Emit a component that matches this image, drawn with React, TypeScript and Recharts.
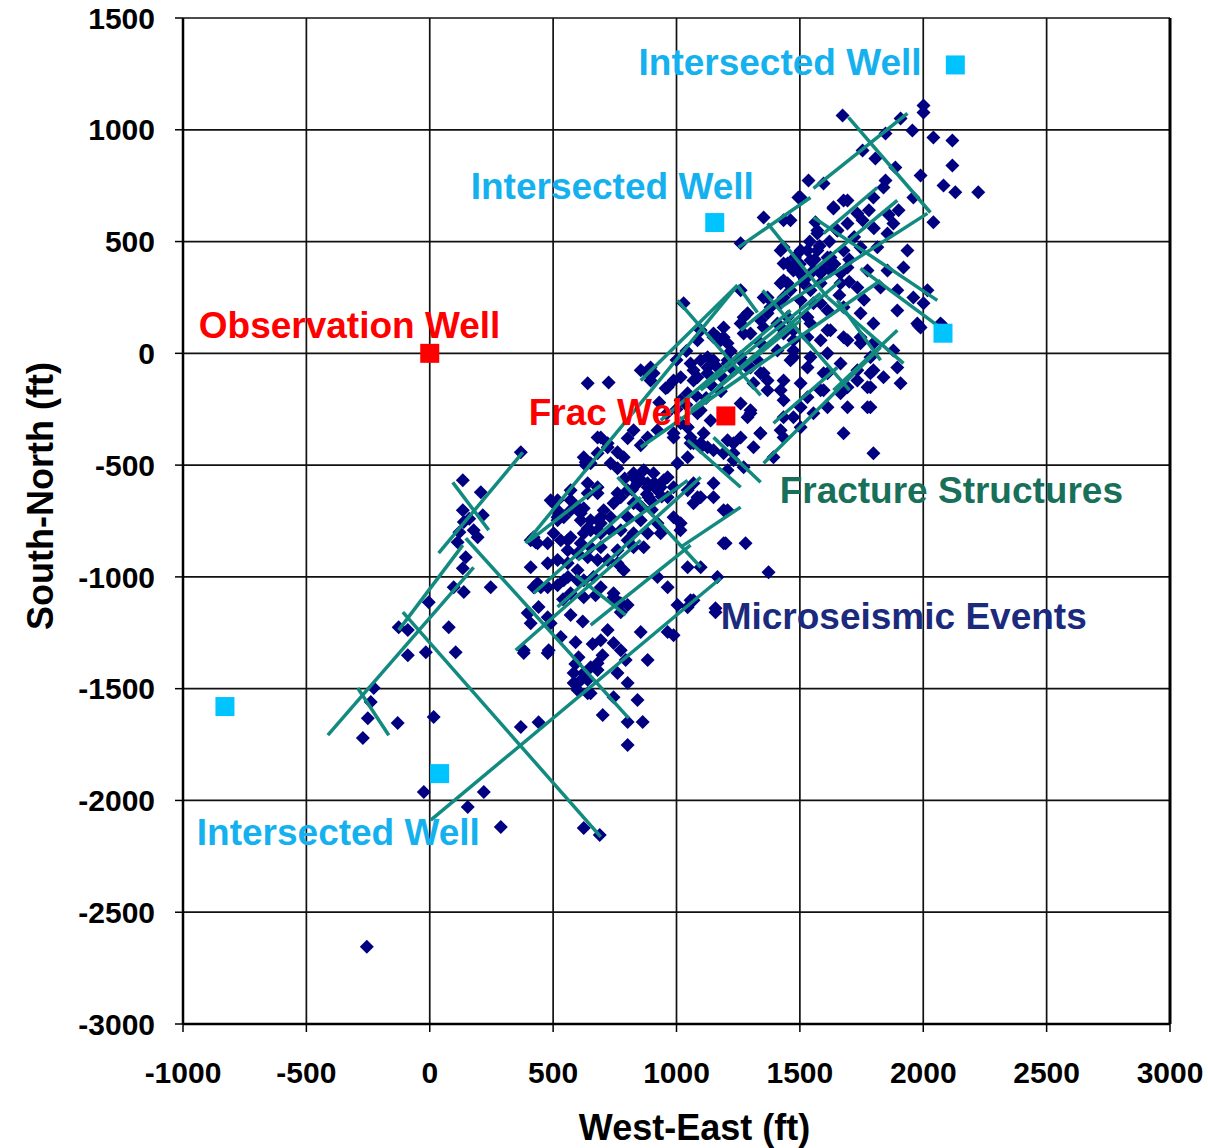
import { ScatterChart, Scatter, XAxis, YAxis, CartesianGrid, ReferenceLine } from "recharts"

const FONT = '"Liberation Sans", Arial, Helvetica, sans-serif'

const xTicks = [-1000, -500, 0, 500, 1000, 1500, 2000, 2500, 3000]
const yTicks = [-3000, -2500, -2000, -1500, -1000, -500, 0, 500, 1000, 1500]

// microseismic events, West-East / South-North in ft
const events: [number, number][] = [
  // lower-left tail and isolated
  [-255, -2655], [-24, -1962], [154, -2029], [219, -1962], [288, -2119], [369, -1672], [441, -1650],
  [624, -2123], [689, -2155], [16, -1627], [-130, -1654], [-271, -1721], [-251, -1632], [-239, -1560],
  [-227, -1497], [-89, -1350], [-16, -1337], [105, -1337], [381, -1341], [478, -1341],
  [134, -568], [207, -621], [134, -702], [215, -724], [138, -755], [178, -791], [194, -823], [113, -845],
  [146, -912], [134, -961], [97, -1046], [138, -1068], [247, -1046], [-4, -1113], [77, -1225],
  [-126, -1225], [-89, -1238], [160, -740], [120, -800],
  // lower cluster
  [441, -1135], [397, -1162], [409, -1207], [478, -1180], [490, -1207], [571, -1171], [531, -1269],
  [591, -1292], [603, -1359], [693, -1283], [721, -1238], [745, -1296], [774, -1328], [652, -1404],
  [680, -1386], [624, -1430], [583, -1475], [612, -1462], [652, -1520], [761, -1430], [802, -1475],
  [794, -1372], [883, -1372], [745, -1538], [842, -1551], [701, -1618], [802, -1649], [863, -1649],
  [802, -1752], [855, -1247], [964, -1247], [988, -1261], [1004, -1126], [1057, -1104], [1158, -1158],
  [774, -1158], [802, -1126], [745, -1091], [672, -1082], [599, -1015], [518, -1037], [478, -1046],
  [421, -1046], [429, -845], [518, -747], [624, -693], [632, -501], [401, -1162], [450, -1046],
  [381, -1328], [482, -1328], [640, -782], [583, -1430], [640, -1520], [680, -1417], [599, -1506],
  [540, -1100], [560, -1000], [620, -1200], [660, -1300], [700, -1350], [590, -1390], [640, -1460],
  // middle cluster
  [369, -443], [632, -487], [693, -376], [721, -420], [680, -447], [761, -443], [802, -380], [826, -344],
  [855, -411], [883, -376], [923, -344], [988, -358], [1045, -331], [1069, -402], [1098, -420],
  [1231, -402], [761, -514], [826, -536], [867, -523], [907, -536], [948, -568], [988, -599], [842, -581],
  [883, -599], [923, -612], [802, -612], [964, -644], [895, -657], [826, -671], [761, -626], [745, -671],
  [705, -702], [680, -599], [640, -626], [599, -688], [571, -702], [502, -671], [518, -733], [502, -805],
  [559, -836], [652, -747], [693, -760], [733, -733], [652, -791], [693, -805], [733, -791], [774, -791],
  [612, -849], [652, -867], [693, -867], [559, -881], [599, -894], [640, -912], [680, -925], [721, -925],
  [761, -881], [802, -836], [826, -867], [867, -867], [761, -939], [786, -970], [559, -939], [599, -970],
  [518, -925], [478, -939], [409, -957], [437, -1028], [543, -1015], [624, -1015], [664, -1001],
  [693, -1046], [745, -1073], [774, -1118], [624, -1091], [571, -1073], [409, -836], [437, -849],
  [421, -823], [490, -657], [518, -702], [571, -657], [612, -715], [1045, -612], [1069, -671],
  [1085, -644], [1150, -644], [1191, -702], [1191, -849], [1045, -957], [1098, -957], [1045, -1136],
  [1069, -1104], [1158, -1140], [964, -1046], [923, -1001], [855, -747], [923, -760], [988, -733],
  [1016, -791], [1373, -979], [1280, -850], [1166, -1000], [850, -560], [880, -630], [910, -580],
  [940, -640], [860, -690], [900, -700], [820, -610], [790, -560],
  // around the frac well
  [640, -134], [725, -130], [883, -89], [895, -63], [956, -156], [1029, 224], [1098, 103], [1150, 72],
  [1179, 58], [1272, 161], [1260, 282], [1353, 250], [1381, 206], [1422, 313], [1450, 402], [1474, 371],
  [1434, 89], [1474, 13], [1312, -134], [1369, -165], [1422, -165], [1045, -179], [1085, -107],
  [1126, -63], [1150, -31], [1207, -31], [1231, -76], [1288, -63], [1328, -31], [1353, -89], [1098, -255],
  [1138, -300], [1260, -224], [1288, -286], [1340, -358], [1300, -255], [1422, -344], [1474, -286],
  [1312, -420], [1393, -465], [1017, -313], [1057, -376], [1098, -402], [1150, -434], [1191, -447],
  [1231, -478], [680, -376], [721, -402], [652, -492], [624, -465], [733, -492], [786, -465], [826, -554],
  [883, -581], [936, -599], [964, -554], [1004, -492], [1045, -465], [1069, -581], [1098, -644],
  [1150, -581], [1207, -702], [518, -657], [571, -612], [640, -581], [543, -733], [612, -747], [680, -626],
  [693, -733], [774, -644], [802, -733], [842, -671], [887, -644], [421, -836], [478, -849], [531, -836],
  [571, -823], [624, -805], [680, -791], [826, -805], [883, -805], [936, -805], [1017, -760], [1199, -849],
  [855, -76], [895, -121], [964, -152], [988, -121], [1057, -45], [1098, -31], [1126, -89], [1166, -63],
  [1207, -45], [1260, -31], [1300, -63], [1341, -89], [1369, -121], [1069, -121], [1017, -210],
  [1085, -268], [1045, -331], [1110, -358], [988, -376], [1057, -402], [1126, -420], [1207, -389],
  [1260, -376], [1300, -268], [1340, -358], [1231, -447], [1272, -510], [1207, -523], [1085, 58],
  [1191, 116], [1260, 134], [1300, 89], [1474, 58], [1531, 72], [1584, 58], [1624, 103], [1693, 58],
  [1746, 45], [1786, -18], [1798, -76], [1786, -152], [1786, -241], [1798, -447], [1462, -31],
  [1531, -63], [1596, -89], [1434, -121], [1503, -134], [1434, -210], [1503, -241], [1555, -268],
  [1596, -165], [1665, -179], [1693, -241], [1693, -152], [1774, -241], [1677, -358], [1584, -165],
  [1612, -241], [1531, -197], [1434, -376], [1434, -286], [1503, -331], [1612, -89], [1733, -121],
  [1774, -152], [1000, -250], [1040, -230], [1080, -190], [1140, -140], [1180, -170], [1120, -200],
  [960, -270], [930, -220], [1000, -30], [1040, 10], [1220, 10], [1180, -100],
  // upper cluster
  [1673, 1064], [2001, 1109], [2001, 1077], [1908, 1050], [1956, 997], [1847, 983], [2041, 966],
  [2118, 952], [1754, 907], [1806, 872], [1887, 831], [2118, 840], [1989, 796], [1847, 773], [2082, 751],
  [2130, 720], [2223, 720], [1535, 773], [1596, 760], [1494, 697], [1636, 653], [1693, 684], [1733, 626],
  [1798, 697], [1839, 742], [1879, 581], [1960, 697], [2041, 586], [1353, 608], [1434, 595], [1260, 492],
  [1563, 586], [1652, 550], [1693, 581], [1754, 595], [1571, 536], [1855, 536], [1434, 474], [1503, 460],
  [1571, 460], [1612, 429], [1677, 460], [1746, 474], [1814, 474], [1434, 402], [1490, 371], [1555, 371],
  [1624, 371], [1693, 384], [1774, 371], [1855, 371], [1920, 384], [1936, 460], [1450, 313], [1515, 313],
  [1584, 313], [1665, 313], [1733, 295], [1827, 295], [1895, 282], [1960, 250], [2017, 282], [1369, 250],
  [1434, 250], [1503, 237], [1555, 224], [1612, 192], [1677, 206], [1746, 179], [1798, 134], [1895, 192],
  [1976, 134], [2001, 224], [1341, 148], [1409, 134], [1474, 103], [1543, 134], [1612, 103], [1677, 72],
  [1746, 72], [1798, 45], [1879, 13], [1989, 116], [2070, 134], [1341, 45], [1409, 13], [1474, -18],
  [1543, -18], [1612, 0], [1665, -45], [1733, -76], [1786, -89], [1839, -107], [1895, -63], [1908, -134],
  [1260, -18], [1207, 45], [1166, 72], [1126, -18], [1069, -76], [1017, -107], [907, -89], [1981, 125],
  [2078, 125], [1503, 697], [1636, 648], [1677, 684], [1462, 595], [1571, 550], [1652, 550], [1422, 460],
  [1531, 460], [1474, 384], [1543, 416], [1624, 429], [1434, 326], [1515, 340], [1584, 358], [1665, 358],
  [1462, 282], [1543, 282], [1422, 224], [1584, 224], [1288, 179], [1369, 179], [1450, 161], [1531, 161],
  [1272, 89], [1353, 116], [1434, 103], [1150, 89], [1191, 72], [1500, 400], [1560, 420], [1600, 390],
  [1520, 330], [1640, 400], [1700, 420], [1580, 480], [1620, 500], [1540, 500], [1480, 430], [1660, 260],
  [1700, 320], [1760, 240], [1800, 560], [1860, 620], [1900, 640], [1780, 640], [1720, 520],
]

// fracture structures: [x1, y1, x2, y2]
const fractures: [number, number, number, number][] = [
  [-413, -1708, 178, -957], [-126, -1238, 134, -858], [36, -894, 377, -443], [-292, -1497, -166, -1708],
  [-109, -1158, 693, -2163], [93, -577, 239, -791], [4, -2088, 1179, -1006], [146, -827, 806, -1632],
  [348, -1328, 855, -836], [397, -845, 693, -590], [421, -1073, 855, -644], [518, -1135, 1098, -554],
  [761, -554, 1098, -957], [1045, -389, 1260, -599], [652, -1216, 1057, -858], [389, -849, 1247, 304],
  [1247, 304, 1328, 183], [591, -992, 794, -1171], [599, -925, 1045, -568], [1017, -867, 1260, -688],
  [855, -121, 1247, 304], [855, -420, 1827, 326], [1098, -165, 1584, 268], [1166, -152, 1665, 326],
  [1393, -313, 1652, -63], [1353, -492, 1827, 27], [1004, 237, 1341, -188], [1349, 282, 1701, -165],
  [1652, 237, 1827, -31], [936, -300, 1462, 192], [1057, -255, 1503, 148], [1251, 474, 1543, 697],
  [1555, 738, 1936, 1073], [1697, 1055, 2029, 630], [1555, 608, 2057, 237], [1260, 103, 1895, 684],
  [1422, 206, 2017, 626], [1746, 380, 2057, 125], [1636, -165, 1895, 103], [1612, 250, 1920, -45],
  [1369, 581, 1612, 250], [1596, 536, 1814, 742], [1150, -376, 1341, -577],
]

const intersectedWells: [number, number][] = [[2130, 1290], [1155, 585], [2080, 90], [-830, -1580], [40, -1880]]
const observationWell: [number, number][] = [[0, 0]]
const fracWell: [number, number][] = [[1200, -280]]

const annotations = [
  { text: "Intersected Well", kind: "intersected", x: 846, y: 1243 },
  { text: "Intersected Well", kind: "intersected", x: 166, y: 689 },
  { text: "Observation Well", kind: "well", x: -936, y: 67 },
  { text: "Frac Well", kind: "well", x: 401, y: -322 },
  { text: "Fracture Structures", kind: "fracture", x: 1418, y: -670 },
  { text: "Microseismic Events", kind: "events", x: 1179, y: -1233 },
  { text: "Intersected Well", kind: "intersected", x: -944, y: -2199 },
]

const labelColors: Record<string, string> = {
  intersected: "#14b1ee",
  well: "#ff0000",
  fracture: "#18705a",
  events: "#1b2a7c",
}

const TEAL = "#128a80"

const toPts = (arr: [number, number][]) => arr.map(([x, y]) => ({ x, y }))

const Diamond = (props: any) => {
  const { cx, cy } = props
  const r = 7
  return <polygon points={`${cx},${cy - r} ${cx + r},${cy} ${cx},${cy + r} ${cx - r},${cy}`} fill="#000080" />
}

const square = (color: string) => (props: any) => {
  const { cx, cy } = props
  return <rect x={cx - 9.5} y={cy - 9.5} width={19} height={19} fill={color} />
}

const Nothing = () => <g />

// fracture segment drawn from the points the Scatter series has already scaled
const FractureLine = (p: any) => {
  const pts = p?.points
  if (!pts || pts.length < 2) return <g />
  return (
    <polyline
      points={pts.map((q: any) => `${q.x},${q.y}`).join(" ")}
      fill="none"
      stroke={TEAL}
      strokeWidth={3.5}
      strokeLinecap="butt"
    />
  )
}

const AnnotationText = (props: any) => {
  const { cx, cy, payload } = props
  return (
    <text x={cx} y={cy} fill={labelColors[payload.kind]} fontSize={37} fontWeight={700} fontFamily={FONT}>
      {payload.text}
    </text>
  )
}

const tickStyle = { fontSize: 30, fontWeight: 700, fill: "#000", fontFamily: FONT }

export default function App() {
  return (
    <div style={{ position: "absolute", left: 0, top: 0, background: "#fff" }}>
      <ScatterChart width={1208} height={1148} margin={{ top: 18, right: 38, bottom: 0, left: 0 }}>
        <CartesianGrid stroke="#111" strokeWidth={1.7} />
        <XAxis
          type="number"
          dataKey="x"
          domain={[-1000, 3000]}
          ticks={xTicks}
          interval={0}
          height={124}
          tickSize={8}
          tickMargin={30}
          tick={tickStyle}
          axisLine={{ stroke: "#000", strokeWidth: 2.5 }}
          tickLine={{ stroke: "#000", strokeWidth: 1.5 }}
          label={{
            content: (p: any) => {
              const vb = p.viewBox
              return (
                <text x={vb.x + vb.width / 2 + 18} y={vb.y + vb.height - 8} textAnchor="middle"
                  fontSize={36} fontWeight={700} fontFamily={FONT} fill="#000">
                  West-East (ft)
                </text>
              )
            },
          }}
        />
        <YAxis
          type="number"
          dataKey="y"
          domain={[-3000, 1500]}
          ticks={yTicks}
          interval={0}
          width={183}
          tickSize={8}
          tickMargin={20}
          tick={tickStyle}
          axisLine={{ stroke: "#000", strokeWidth: 2.5 }}
          tickLine={{ stroke: "#000", strokeWidth: 1.5 }}
          label={{
            content: (p: any) => {
              const vb = p.viewBox
              const cx = vb.x + 40
              const cy = vb.y + vb.height / 2 - 25
              return (
                <text x={cx} y={cy} transform={`rotate(-90 ${cx} ${cy})`} textAnchor="middle"
                  dominantBaseline="central" fontSize={36} fontWeight={700} fontFamily={FONT} fill="#000">
                  South-North (ft)
                </text>
              )
            },
          }}
        />
        <ReferenceLine x={3000} stroke="#000" strokeWidth={3} />
        <Scatter data={toPts(events)} shape={Diamond} isAnimationActive={false} />
        {fractures.map(([x1, y1, x2, y2], i) => (
          <Scatter
            key={"f" + i}
            data={[{ x: x1, y: y1 }, { x: x2, y: y2 }]}
            fill={TEAL}
            line={FractureLine}
            shape={Nothing}
            isAnimationActive={false}
          />
        ))}
        <Scatter data={toPts(intersectedWells)} shape={square("#00c4ff")} isAnimationActive={false} />
        <Scatter data={toPts(observationWell)} shape={square("#ff0000")} isAnimationActive={false} />
        <Scatter data={toPts(fracWell)} shape={square("#ff0000")} isAnimationActive={false} />
        <Scatter data={annotations} shape={AnnotationText} isAnimationActive={false} />
      </ScatterChart>
    </div>
  )
}
